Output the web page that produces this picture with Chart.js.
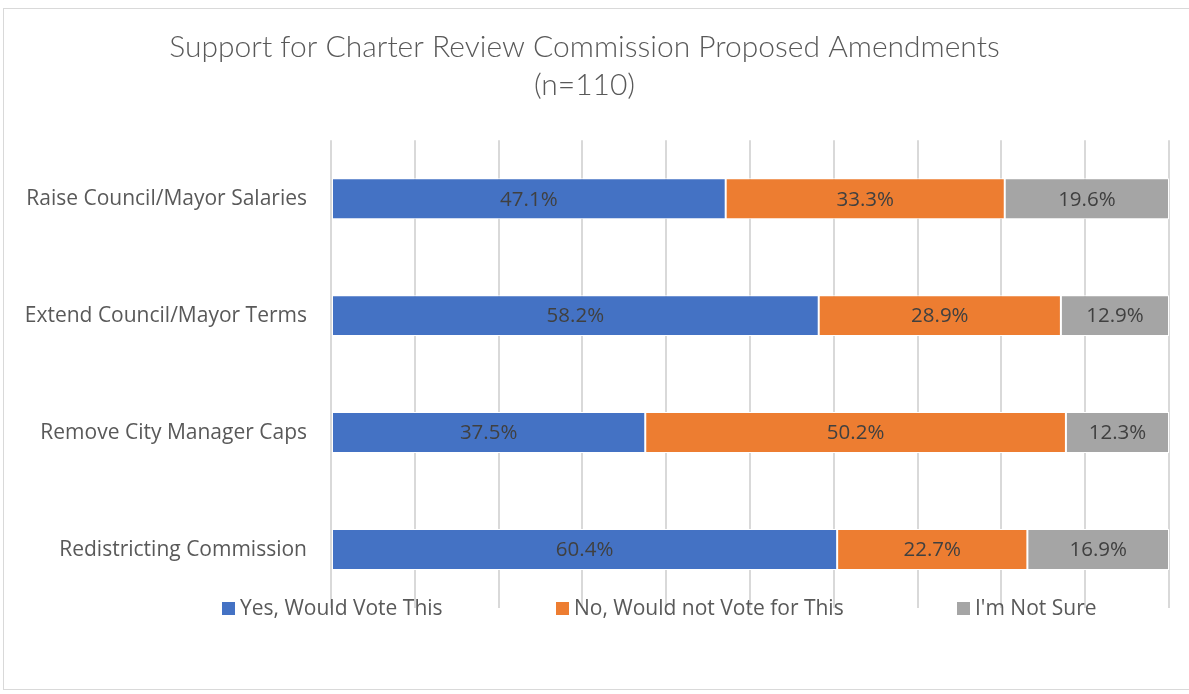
<!DOCTYPE html>
<html>
<head>
<meta charset="utf-8">
<script src="https://cdn.jsdelivr.net/npm/chart.js@4.4.1/dist/chart.umd.min.js"></script>
<style>
html,body{margin:0;padding:0;background:#fff;}
#wrap{position:relative;width:1189px;height:694px;}
</style>
</head>
<body>
<div id="wrap"><canvas id="c" width="1189" height="694"></canvas></div>
<script>
const categories = ["Raise Council/Mayor Salaries","Extend Council/Mayor Terms","Remove City Manager Caps","Redistricting Commission"];
const seriesNames = ["Yes, Would Vote This","No, Would not Vote for This","I'm Not Sure"];
const yesValues = [47.1, 58.2, 37.5, 60.4];
const noValues = [33.3, 28.9, 50.2, 22.7];
const notSureValues = [19.6, 12.9, 12.3, 16.9];
const colors = ["#4472C4","#ED7D31","#A5A5A5"];
const titleLines = ["Support for Charter Review Commission Proposed Amendments","(n=110)"];

const FONT = "'Open Sans', sans-serif";
const TITLE_FONT = "Lato, sans-serif";

const frame = {
  id:'frame',
  beforeDraw(chart){
    const ctx = chart.ctx;
    ctx.save();
    ctx.fillStyle = '#fff';
    ctx.fillRect(0,0,chart.width,chart.height);
    ctx.strokeStyle = '#d9d9d9';
    ctx.lineWidth = 1;
    ctx.strokeRect(3.5, 8.5, chart.width+10, chart.height-13);
    ctx.restore();
  }
};

const dataLabels = {
  id:'dataLabels',
  afterDatasetsDraw(chart){
    const ctx = chart.ctx;
    ctx.save();
    ctx.font = "20.5px " + FONT;
    ctx.fillStyle = '#404040';
    ctx.textAlign = 'center';
    ctx.textBaseline = 'middle';
    chart.data.datasets.forEach((ds, di) => {
      const meta = chart.getDatasetMeta(di);
      meta.data.forEach((bar, i) => {
        const cx = (bar.x + bar.base) / 2;
        ctx.fillText(ds.data[i].toFixed(1) + '%', cx, bar.y + 1);
      });
    });
    ctx.restore();
  }
};

const customLegend = {
  id:'customLegend',
  afterDraw(chart){
    const ctx = chart.ctx;
    const xs = [222, 556, 957];
    const y = chart.chartArea.bottom;
    ctx.save();
    ctx.font = "21px " + FONT;
    ctx.textBaseline = 'middle';
    ctx.textAlign = 'left';
    chart.data.datasets.forEach((ds, i) => {
      ctx.fillStyle = ds.backgroundColor;
      ctx.fillRect(xs[i], y - 6, 13, 13);
      ctx.fillStyle = '#595959';
      ctx.fillText(ds.label, xs[i] + 18, y + 1);
    });
    ctx.restore();
  }
};

new Chart(document.getElementById('c'), {
  type: 'bar',
  data: {
    labels: categories,
    datasets: [
      {label: seriesNames[0], data: yesValues, backgroundColor: colors[0]},
      {label: seriesNames[1], data: noValues, backgroundColor: colors[1]},
      {label: seriesNames[2], data: notSureValues, backgroundColor: colors[2]}
    ].map(d => Object.assign(d, {borderColor:'#ffffff', borderWidth:1, borderSkipped:false, categoryPercentage:0.35, barPercentage:1}))
  },
  options: {
    indexAxis: 'y',
    responsive: false,
    animation: false,
    layout: {padding: {top: 0, right: 20, bottom: 86, left: 0}},
    scales: {
      x: {
        stacked: true, min: 0, max: 100,
        ticks: {display: false, stepSize: 10},
        grid: {color: '#d9d9d9', lineWidth: 2, drawTicks: false},
        border: {display: false}
      },
      y: {
        stacked: true,
        grid: {display: false, drawTicks: false},
        border: {display: false},
        ticks: {color: '#595959', font: {size: 21, family: FONT}, padding: 24},
        afterFit(scale){ scale.width = 331; }
      }
    },
    plugins: {
      legend: {display: false},
      tooltip: {enabled: false},
      title: {
        display: true,
        text: titleLines,
        color: '#595959',
        font: {size: 30, family: TITLE_FONT, weight: '300', lineHeight: 1.27},
        padding: {top: 28, bottom: 36}
      }
    }
  },
  plugins: [frame, dataLabels, customLegend]
});
</script>
</body>
</html>
